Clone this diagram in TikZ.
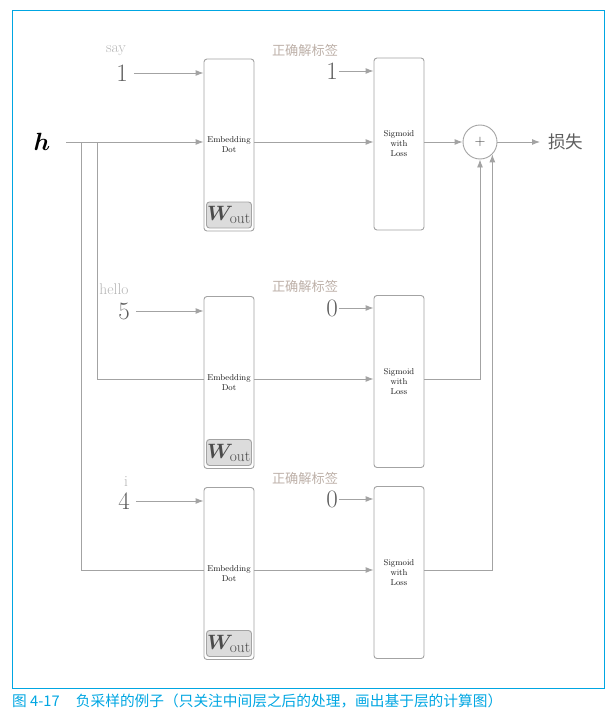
\documentclass[tikz,border=0pt]{standalone}
\usepackage{amsmath,amssymb,bm}
\usepackage{fontspec}
\newfontfamily\cjk{Noto Sans CJK SC}
\usetikzlibrary{arrows.meta,positioning,calc}
\definecolor{fgblue}{HTML}{00A6E2}
\definecolor{fggray}{HTML}{A3A3A3}
\definecolor{fgtext}{HTML}{5E5E5E}
\definecolor{fglight}{HTML}{B5B5B5}
\definecolor{fgtag}{HTML}{BDB0A8}
\definecolor{fgfill}{HTML}{DCDCDC}

\begin{document}
\begin{tikzpicture}[x=1pt,y=-1pt,
    layer/.style={draw=fggray,rounded corners=3pt,line width=0.9pt,fill=white,minimum width=50pt,
      minimum height=172pt,inner sep=0pt,align=center,font=\fontsize{8.5}{10}\selectfont,text=black!90},
    wbox/.style={draw=fggray,fill=fgfill,rounded corners=3pt,line width=0.9pt,minimum width=45pt,
      minimum height=26pt,inner sep=0pt,font=\fontsize{22}{22}\selectfont,text=fgtext!80!black},
    num/.style={font=\fontsize{25}{25}\selectfont,text=fgtext,inner sep=1pt},
    word/.style={font=\fontsize{15.5}{15.5}\selectfont,text=fglight,inner sep=0pt},
    tag/.style={font=\cjk\fontsize{13.2}{14}\selectfont,text=fgtag,inner sep=0pt},
    arr/.style={-{Latex[length=8pt,width=6pt]},line width=0.9pt,draw=fggray},
    wire/.style={line width=0.9pt,draw=fggray}]
  \useasboundingbox (0,0) rectangle (613,717);
  \draw[fgblue,line width=1pt] (12,11) rectangle (604,688);

  % input h and its branches
  \node[font=\fontsize{32}{32}\selectfont,inner sep=0pt] (h) at (42,142) {$\bm{h}$};
  \coordinate (hs) at (66,142);
  \coordinate (b1) at (81,142);
  \coordinate (b2) at (97,142);

  % Embedding Dot layers
  \node[layer] (emb1) at (229,145) {Embedding\\Dot};
  \node[layer] (emb2) at (229,382.5) {Embedding\\Dot};
  \node[layer] (emb3) at (229,573.5) {Embedding\\Dot};
  \node[wbox,above=3pt of emb1.south] (w1) {$\bm{W}_{\mathrm{out}}$};
  \node[wbox,above=3pt of emb2.south] (w2) {$\bm{W}_{\mathrm{out}}$};
  \node[wbox,above=3pt of emb3.south] (w3) {$\bm{W}_{\mathrm{out}}$};

  % Sigmoid with Loss layers
  \node[layer] (sg1) at (399,144) {Sigmoid\\with\\Loss};
  \node[layer] (sg2) at (399,381.5) {Sigmoid\\with\\Loss};
  \node[layer] (sg3) at (399,572.5) {Sigmoid\\with\\Loss};

  % word ids
  \node[word] (wd1) at (116,51) {say};
  \node[num] (in1) at (122,73) {1};
  \node[word] (wd2) at (114,289) {hello};
  \node[num] (in2) at (124,311) {5};
  \node[word] (wd3) at (126,481) {i};
  \node[num] (in3) at (124,501) {4};

  % correct labels
  \node[tag] (tg1) at (305,50) {正确解标签};
  \node[num] (lb1) at (332,71) {1};
  \node[tag] (tg2) at (305,286) {正确解标签};
  \node[num] (lb2) at (332,308) {0};
  \node[tag] (tg3) at (305,478) {正确解标签};
  \node[num] (lb3) at (332,499) {0};

  \node[draw=fggray,circle,minimum size=34pt,inner sep=0pt,line width=0.9pt,
    font=\fontsize{14}{14}\selectfont,text=fgtext!70!black] (plus) at (480,142) {$+$};
  \node[font=\cjk\fontsize{17.5}{18}\selectfont,text=fgtext,anchor=west,inner sep=0pt] (loss)
    at (548,142) {损失};

  \draw[wire] (hs) -- (b2);
  \draw[arr] (b2) -- (emb1.west |- 0,142);
  \draw[wire] (b2) |- (emb2.west |- 0,379);
  \draw[wire] (b1) |- (emb3.west |- 0,570);

  \draw[arr,shorten <=5pt] (in1) -- (in1 -| emb1.west);
  \draw[arr,shorten <=5pt] (in2) -- (in2 -| emb2.west);
  \draw[arr,shorten <=5pt] (in3) -- (in3 -| emb3.west);

  \draw[arr] (emb1.east |- 0,142) -- (sg1.west |- 0,142);
  \draw[arr] (emb2.east |- 0,379) -- (sg2.west |- 0,379);
  \draw[arr] (emb3.east |- 0,570) -- (sg3.west |- 0,570);

  \draw[arr] (lb1) -- (lb1 -| sg1.west);
  \draw[arr] (lb2) -- (lb2 -| sg2.west);
  \draw[arr] (lb3) -- (lb3 -| sg3.west);

  \draw[arr] (sg1.east |- plus) -- (plus);
  \draw[arr] (sg2.east |- 0,379) -| (plus.south);
  \draw[arr] (sg3.east |- 0,570) -| (plus.-45);
  \draw[arr,shorten >=8pt] (plus) -- (loss);

  \node[anchor=west,inner sep=0pt,font=\cjk\fontsize{14.7}{15}\selectfont,text=fgblue] (cap)
    at (12,701) {图 4-17\hspace{1.1em}负采样的例子（只关注中间层之后的处理，画出基于层的计算图）};
\end{tikzpicture}
\end{document}
